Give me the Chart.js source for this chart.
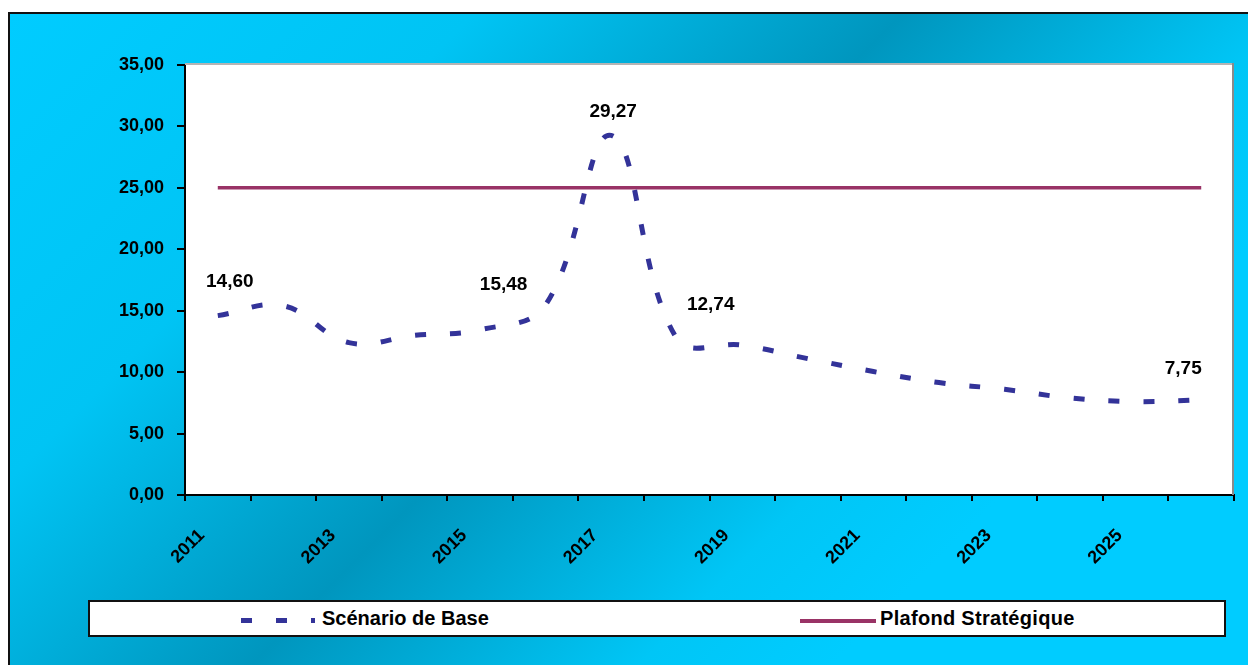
<!DOCTYPE html>
<html>
<head>
<meta charset="utf-8">
<script src="https://cdn.jsdelivr.net/npm/chart.js@4"></script>
<style>
    html, body { margin: 0; padding: 0; width: 1248px; height: 665px; overflow: hidden; background: #fff; }
    #frame {
        position: absolute; left: 8px; top: 12px; width: 1260px; height: 680px;
        border: 2px solid #111;
        background: linear-gradient(135deg, #00ccff 0%, #00c4f4 24%, #0096be 46%, #00c6f6 66%, #00ccff 76%, #00ccff 100%);
    }
    #chart { position: absolute; left: 0; top: 0; }
    #legend {
        position: absolute; left: 88px; top: 600px; width: 1134px; height: 33px;
        border: 2px solid #111; background: #fff;
        font-family: 'Liberation Sans', Arial, sans-serif; font-weight: bold; font-size: 20px; color: #000;
    }
    .sample { position: absolute; top: 16px; height: 5px; }
    .ltext { position: absolute; top: 5px; line-height: 22px; white-space: nowrap; }
</style>
</head>
<body>
<div id="frame"></div>
<canvas id="chart" width="1248" height="665"></canvas>
<div id="legend">
    <div class="sample" style="left:151px;width:74px;background:repeating-linear-gradient(90deg,#333399 0 11px,transparent 11px 35px);"></div>
    <div class="ltext" style="left:232px;">Scénario de Base</div>
    <div class="sample" style="left:710px;width:76px;top:17px;height:4px;background:#993366;"></div>
    <div class="ltext" style="left:790px;letter-spacing:0.3px;">Plafond Stratégique</div>
</div>
<script>
// ==========================================
// DATA
// ==========================================
const years = ['2011', '2012', '2013', '2014', '2015', '2016', '2017', '2018',
               '2019', '2020', '2021', '2022', '2023', '2024', '2025', '2026'];

const scenarioBase = [14.60, 15.40, 12.40, 13.00, 13.45, 15.48, 29.27, 12.74,
                      12.20, 11.10, 10.05, 9.15, 8.60, 7.90, 7.60, 7.75];

const plafondStrategique = [25.00, 25.00, 25.00, 25.00, 25.00, 25.00, 25.00, 25.00,
                            25.00, 25.00, 25.00, 25.00, 25.00, 25.00, 25.00, 25.00];

const yTicks = [0, 5, 10, 15, 20, 25, 30, 35];

// points of the base scenario that carry a value label
const labelledPoints = [0, 5, 6, 7, 15];
const labelShift = { 0: [12, -34], 5: [-42, -20], 6: [2, -24], 7: [34, -34], 15: [-18, -31] };

const fmt = v => v.toFixed(2).replace('.', ',');

// ==========================================
// PLUGINS
// ==========================================
const plotArea = {
    id: 'plotArea',
    beforeDraw(chart) {
        const { ctx, chartArea: a } = chart;
        ctx.save();
        ctx.fillStyle = '#ffffff';
        ctx.fillRect(a.left, a.top, a.right - a.left, a.bottom - a.top);
        ctx.restore();
    },
    afterDraw(chart) {
        const { ctx, chartArea: a } = chart;
        ctx.save();
        ctx.lineWidth = 2;
        ctx.strokeStyle = '#b4b4b4';
        ctx.beginPath();
        ctx.moveTo(a.left, a.top - 1);
        ctx.lineTo(a.right, a.top - 1);
        ctx.stroke();
        ctx.strokeStyle = '#8a8a8a';
        ctx.beginPath();
        ctx.moveTo(a.right - 1, a.top - 2);
        ctx.lineTo(a.right - 1, a.bottom);
        ctx.stroke();
        ctx.restore();
    }
};

const valueLabels = {
    id: 'valueLabels',
    afterDatasetsDraw(chart) {
        const { ctx } = chart;
        const meta = chart.getDatasetMeta(0);
        ctx.save();
        ctx.font = "bold 19px 'Liberation Sans', Arial, sans-serif";
        ctx.fillStyle = '#000';
        ctx.textAlign = 'center';
        ctx.textBaseline = 'middle';
        labelledPoints.forEach(i => {
            const pt = meta.data[i];
            const [dx, dy] = labelShift[i];
            ctx.fillText(fmt(scenarioBase[i]), pt.x + dx, pt.y + dy);
        });
        ctx.restore();
    }
};

// ==========================================
// CHART
// ==========================================
Chart.defaults.font.family = "'Liberation Sans', Arial, sans-serif";

new Chart(document.getElementById('chart').getContext('2d'), {
    type: 'line',
    data: {
        labels: years,
        datasets: [
            {
                label: 'Scénario de Base',
                data: scenarioBase,
                borderColor: '#333399',
                borderWidth: 5,
                borderDash: [11, 24],
                borderCapStyle: 'butt',
                tension: 0.4,
                pointRadius: 0,
                fill: false
            },
            {
                label: 'Plafond Stratégique',
                data: plafondStrategique,
                borderColor: '#993366',
                borderWidth: 3.5,
                tension: 0,
                pointRadius: 0,
                fill: false
            }
        ]
    },
    options: {
        responsive: false,
        animation: false,
        layout: { padding: { left: 85, right: 14, top: 65, bottom: 70 } },
        plugins: {
            legend: { display: false },
            tooltip: { enabled: false }
        },
        scales: {
            x: {
                offset: true,
                afterFit: s => { s.height = 100; },
                grid: { offset: true, drawOnChartArea: false, color: '#000', lineWidth: 2, tickLength: 6 },
                border: { color: '#000', width: 2 },
                ticks: {
                    autoSkip: false,
                    minRotation: 45,
                    maxRotation: 45,
                    padding: 24,
                    labelOffset: -16,
                    color: '#000',
                    font: { size: 18, weight: 'bold' },
                    callback: (v, i) => (i % 2 === 0 ? years[i] : '')
                }
            },
            y: {
                min: yTicks[0],
                max: yTicks[yTicks.length - 1],
                afterFit: s => { s.width = 100; },
                afterBuildTicks: s => { s.ticks = yTicks.map(v => ({ value: v })); },
                grid: { drawOnChartArea: false, color: '#000', lineWidth: 2, tickLength: 8 },
                border: { color: '#000', width: 2 },
                ticks: {
                    padding: 13,
                    color: '#000',
                    font: { size: 18, weight: 'bold' },
                    callback: v => fmt(v)
                }
            }
        }
    },
    plugins: [plotArea, valueLabels]
});
</script>
</body>
</html>
